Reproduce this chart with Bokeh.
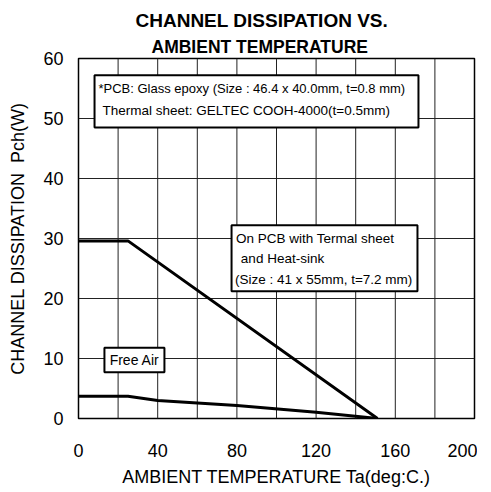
from bokeh.plotting import figure
from bokeh.models import FixedTicker, BoxAnnotation, Label, Range1d, Title
from bokeh.embed import file_html
from bokeh.resources import INLINE

# Data
pcb_x = [0, 25, 151]
pcb_y = [29.6, 29.6, 0]
free_x = [0, 25, 40, 80, 120, 151]
free_y = [3.7, 3.7, 3.0, 2.15, 1.05, 0]

x_ticks = [0, 40, 80, 120, 160, 200]
y_ticks = [0, 10, 20, 30, 40, 50, 60]
x_grid = list(range(20, 200, 20))
y_grid = list(range(10, 60, 10))
x_lim = (0, 200)
y_lim = (0, 60)

title_lines = ["CHANNEL DISSIPATION VS.", "AMBIENT TEMPERATURE"]

FONT = "Liberation Sans"

p = figure(frame_width=396, frame_height=360, min_border_left=78, min_border_right=3,
           min_border_top=58, min_border_bottom=62,
           x_range=Range1d(*x_lim), y_range=Range1d(*y_lim),
           title=None, output_backend="svg", toolbar_location=None)

# two title lines: nearest to the frame added first
for text, off, so, size in ((title_lines[1], 73, 3, "17.5px"), (title_lines[0], 57, 5, "19px")):
    p.add_layout(Title(text=text, align="left", offset=off, text_font=FONT,
                       text_font_size=size, text_font_style="bold",
                       text_color="black", standoff=so), "above")

p.outline_line_color = "black"
p.outline_line_width = 1.5
p.outline_line_alpha = 1

for ax in (p.xaxis[0], p.yaxis[0]):
    ax.axis_line_color = None
    ax.major_tick_line_color = None
    ax.minor_tick_line_color = None
    ax.major_tick_out = 0
    ax.major_tick_in = 0
    ax.minor_tick_out = 0
    ax.major_label_text_font = FONT
    ax.major_label_text_font_size = "18px"
    ax.major_label_text_color = "black"
    ax.axis_label_text_font = FONT
    ax.axis_label_text_font_size = "18px"
    ax.axis_label_text_font_style = "normal"
    ax.axis_label_text_color = "black"

p.xaxis.ticker = FixedTicker(ticks=x_ticks)
p.yaxis.ticker = FixedTicker(ticks=y_ticks)
p.xaxis.major_label_standoff = 25
p.yaxis.major_label_standoff = 15
p.xaxis.axis_label = "AMBIENT TEMPERATURE Ta(deg:C.)"
p.yaxis.axis_label = "CHANNEL DISSIPATION\u00a0\u00a0Pch(W)"
p.xaxis.axis_label_standoff = 7
p.yaxis.axis_label_standoff = 12

p.xgrid.visible = False
p.ygrid.visible = False

# grid lines drawn as segments under the curves
p.segment(x0=x_grid, y0=[y_lim[0]] * len(x_grid), x1=x_grid, y1=[y_lim[1]] * len(x_grid),
          line_color="#222222", line_width=1, level="underlay")
p.segment(x0=[x_lim[0]] * len(y_grid), y0=y_grid, x1=[x_lim[1]] * len(y_grid), y1=y_grid,
          line_color="#222222", line_width=1, level="underlay")

p.line(pcb_x, pcb_y, line_color="black", line_width=3)
p.line(free_x, free_y, line_color="black", line_width=3)

# Annotation boxes
def box(l, r, t, b):
    p.add_layout(BoxAnnotation(left=l, right=r, top=t, bottom=b, fill_color="white",
                               fill_alpha=1, line_color="black", line_width=2, line_alpha=1))

def lab(x, y, text, size="13px", align="left", style="normal"):
    p.add_layout(Label(x=x, y=y, text=text, text_font=FONT, text_font_size=size,
                       text_align=align, text_baseline="middle", text_color="black",
                       text_font_style=style))

box(8.1, 171.7, 57.2, 48.5)
lab(10.1, 55.0, "*PCB: Glass epoxy (Size : 46.4 x 40.0mm, t=0.8 mm)")
lab(12.1, 51.3, "Thermal sheet: GELTEC COOH-4000(t=0.5mm)", size="13.5px")

box(77.3, 171.2, 32.2, 21.2)
lab(79.5, 30.0, "On PCB with Termal sheet", size="13.5px")
lab(82.0, 26.6, "and Heat-sink", size="13.5px")
lab(79.0, 23.2, "(Size : 41 x 55mm, t=7.2 mm)", size="13.5px")

box(13.1, 43.4, 11.8, 7.7)
lab(28.3, 9.8, "Free Air", size="14px", align="center")

open("out.html", "w").write(file_html(p, INLINE))
